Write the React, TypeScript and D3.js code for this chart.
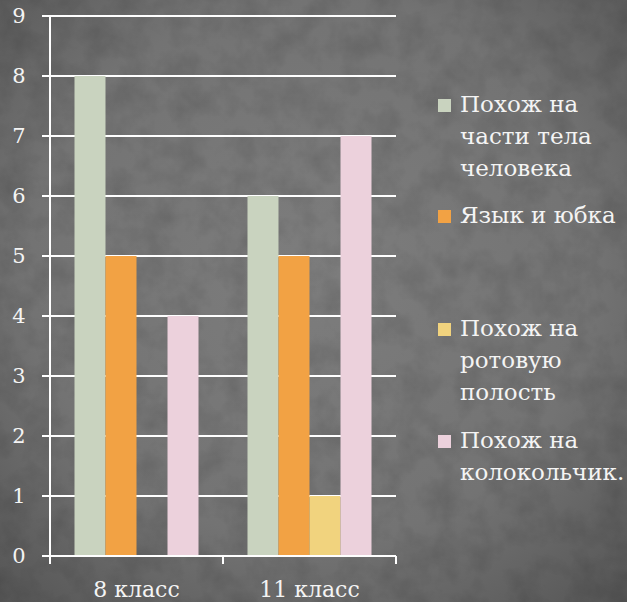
import React from "react";
import * as d3 from "d3";

const categories = ["8 класс", "11 класс"];
const seriesNames = [
  ["Похож на", "части тела", "человека"],
  ["Язык и юбка"],
  ["Похож на", "ротовую", "полость"],
  ["Похож на", "колокольчик."],
];
const seriesColors = ["#c9d3bf", "#f2a244", "#f1d37e", "#ecd1dc"];
const values8 = [8, 5, 0, 4];
const values11 = [6, 5, 1, 7];
const yTicks = [0, 1, 2, 3, 4, 5, 6, 7, 8, 9];

const W = 627;
const H = 602;
const left = 50;
const right = 396;
const top = 16;
const bottom = 556;

export default function App() {
  const data = [values8, values11];
  const x0 = d3.scaleBand<string>().domain(categories).range([left, right]).paddingInner(0).paddingOuter(0);
  const x1 = d3.scaleBand<number>().domain([0, 1, 2, 3]).range([0, x0.bandwidth()]).paddingInner(0).paddingOuter(0.79);
  const y = d3.scaleLinear().domain([0, 9]).range([bottom, top]);
  const fontStyle = { fontFamily: '"DejaVu Serif", "Liberation Serif", "Times New Roman", serif' };
  const legendTop = [112, 223, 336, 448];
  const lineH = 32;
  return (
    <svg width={W} height={H} style={{ position: "absolute", left: 0, top: 0 }}>
      <defs>
        <radialGradient id="bg" cx="50%" cy="45%" r="75%">
          <stop offset="0%" stopColor="#7d7d7d" />
          <stop offset="60%" stopColor="#737373" />
          <stop offset="100%" stopColor="#545454" />
        </radialGradient>
        <filter id="noise" x="0" y="0" width="100%" height="100%">
          <feTurbulence type="fractalNoise" baseFrequency="0.035" numOctaves="4" seed="3" result="t" />
          <feColorMatrix type="matrix" values="0 0 0 0 0  0 0 0 0 0  0 0 0 0 0  0.6 0 0 0 -0.22" />
        </filter>
      </defs>
      <rect x={0} y={0} width={W} height={H} fill="url(#bg)" />
      <rect x={0} y={0} width={W} height={H} filter="url(#noise)" opacity={0.35} />
      {yTicks.map((t) => (
        <g key={t}>
          <line x1={left - 8} x2={right} y1={y(t)} y2={y(t)} stroke="#ffffff" strokeWidth={2} />
          <text x={19} y={y(t)} dy="0.35em" textAnchor="middle" fill="#f4f4f4" fontSize={21} style={fontStyle}>
            {t}
          </text>
        </g>
      ))}
      <line x1={left} x2={left} y1={top} y2={bottom + 8} stroke="#ffffff" strokeWidth={2} />
      {[left, left + x0.bandwidth(), right].map((xv, i) => (
        <line key={i} x1={xv} x2={xv} y1={bottom} y2={bottom + 8} stroke="#ffffff" strokeWidth={2} />
      ))}
      {categories.map((c, ci) => (
        <g key={c}>
          {data[ci].map((v, si) => (
            <rect
              key={si}
              x={(x0(c) as number) + (x1(si) as number)}
              y={y(v)}
              width={x1.bandwidth()}
              height={bottom - y(v)}
              fill={seriesColors[si]}
            />
          ))}
          <text x={(x0(c) as number) + x0.bandwidth() / 2} y={597} textAnchor="middle" fill="#f4f4f4" fontSize={22} style={fontStyle}>
            {c}
          </text>
        </g>
      ))}
      <line x1={left} x2={right} y1={bottom} y2={bottom} stroke="#ffffff" strokeWidth={2} />
      {seriesNames.map((lines, si) => (
        <g key={si}>
          <rect x={438} y={legendTop[si] - 13} width={13} height={13} fill={seriesColors[si]} />
          {lines.map((ln, li) => (
            <text key={li} x={460} y={legendTop[si] + li * lineH} fill="#f4f4f4" fontSize={23} style={fontStyle}>
              {ln}
            </text>
          ))}
        </g>
      ))}
    </svg>
  );
}
